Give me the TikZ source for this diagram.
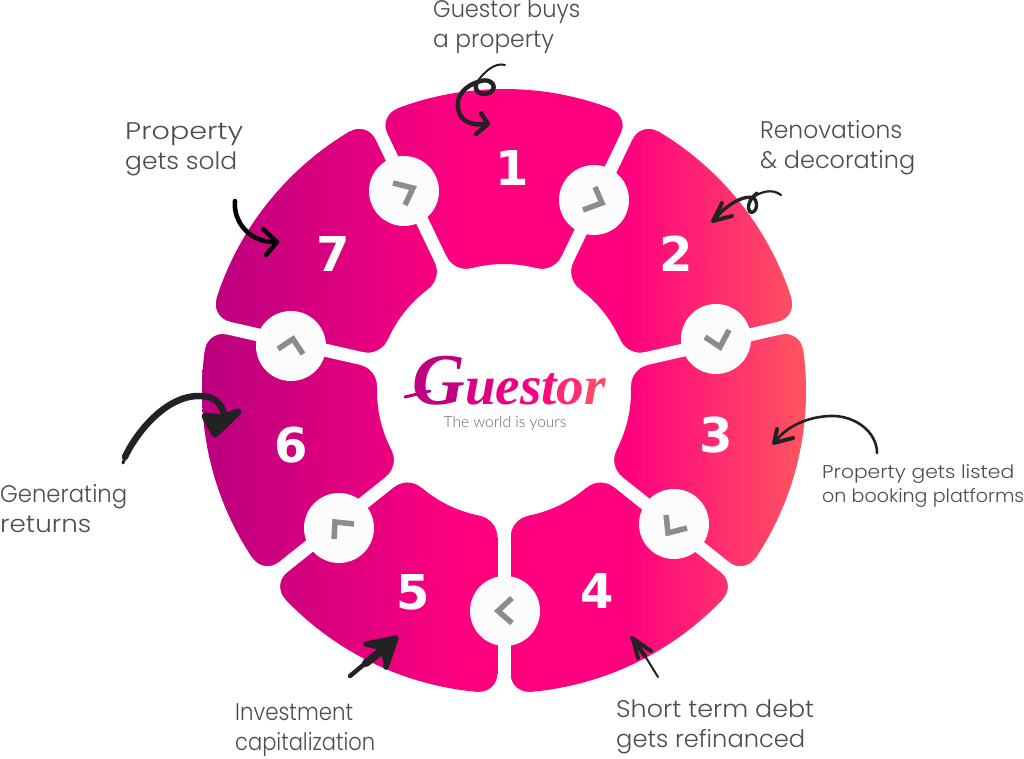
\documentclass[tikz,border=0pt]{standalone}
\usepackage{fontspec}
\usepackage{graphicx}
\setmainfont{Lato}
\newfontfamily\handfont{Poppins Light}
\newfontfamily\digitfont{DejaVu Sans}
\newfontfamily\logofont{Liberation Serif}
\newfontfamily\tagfont{Lato Light}
\definecolor{inkc}{HTML}{222222}
\definecolor{chevc}{HTML}{8C8C8C}
\definecolor{textc}{HTML}{4D4D4D}
\definecolor{ringa}{HTML}{BA007F}
\definecolor{ringb}{HTML}{FF007F}
\definecolor{ringc}{HTML}{FF5560}
\pgfdeclarehorizontalshading{ringshade}{100bp}{color(0bp)=(ringa); color(25bp)=(ringa); color(47bp)=(ringb); color(60bp)=(ringb); color(75bp)=(ringc); color(100bp)=(ringc)}
\newcommand{\fitline}[2]{\resizebox{#1pt}{\height}{#2}}
\tikzset{
  hub/.style={circle,fill=white!99!black,minimum size=70pt,inner sep=0pt},
  chev/.style={draw=chevc,line width=5.5pt,line join=miter},
  digit/.style={text=white,font=\digitfont\bfseries\fontsize{48}{48}\selectfont,inner sep=0pt},
  lab/.style={text=textc,anchor=west,align=left,inner sep=0pt},
  labbig/.style={lab,font=\handfont\fontsize{24}{30}\selectfont},
  labsmall/.style={lab,font=\handfont\fontsize{18.5}{24}\selectfont},
  stroke/.style={draw=inkc,line cap=round,line join=round,line width=#1},
  stroke/.default=3pt
}
\begin{document}
\begin{tikzpicture}[x=1pt,y=-1pt]
\useasboundingbox (0,0) rectangle (1024,759);
\fill[white] (0,0) rectangle (1024,759);
\coordinate (c) at (504,391);
% ring with the horizontal gradient
\begin{scope}[even odd rule]
  \clip (c) circle (302pt) (c) circle (127pt);
  \shade[shading=ringshade] (202,85) rectangle (806,697);
\end{scope}
% white separators with rounded segment corners
\foreach \a in {64.29,12.86,-38.57,-90,-141.43,167.14,115.71}{
  \begin{scope}[shift={(c)},rotate=\a]
    \fill[white] (110,-6.5) rectangle (320,6.5);
    \foreach \s in {1,-1}{
      \begin{scope}[yscale=\s]
        \fill[white] (282.9,6) -- (282.9,6.5) .. controls (293.45,6.5) and (301.71,15.54) .. (300.8,26.05) -- (312,27) -- (312,6) -- cycle;
        \fill[white] (146.25,6) -- (146.25,6.5) .. controls (135.72,6.5) and (126.67,13.96) .. (124.66,24.29) -- (115,24) -- (115,6) -- cycle;
      \end{scope}
    }
  \end{scope}
}
% hubs
\node[hub] (h12) at (594,200) {};
\node[hub] (h23) at (716,339) {};
\node[hub] (h34) at (674,524) {};
\node[hub] (h45) at (505,611) {};
\node[hub] (h56) at (339,528) {};
\node[hub] (h67) at (291,346) {};
\node[hub] (h71) at (404,191) {};
% chevrons
\draw[chev] (393,183) -- (413,188) -- (405,205);
\draw[chev] (595,187) -- (602,203) -- (583,210);
\draw[chev] (705,337) -- (720,347) -- (729,330);
\draw[chev] (666,515) -- (668,533) -- (687,528);
\draw[chev] (512,598) -- (498,611) -- (512,623);
\draw[chev] (334,539) -- (335,522) -- (354,524);
\draw[chev] (278,349) -- (293,339) -- (303,354);
% numbers
\node[digit] (n1) at (512,168) {1};
\node[digit] (n2) at (676,254) {2};
\node[digit] (n3) at (716,435) {3};
\node[digit] (n4) at (597,591) {4};
\node[digit] (n5) at (413,592) {5};
\node[digit] (n6) at (291,445) {6};
\node[digit] (n7) at (333,254) {7};
% labels
\node[labbig] (l1) at (433,27) {\fitline{147}{Guestor buys}\\\fitline{121}{a property}};
\node[labbig] (l2) at (760,148) {\fitline{142}{Renovations}\\\fitline{155}{\& decorating}};
\node[labsmall] (l3) at (822,486) {\fitline{192}{Property gets listed}\\\fitline{202}{on booking platforms}};
\node[labbig] (l4) at (616,727) {\fitline{198}{Short term debt}\\\fitline{189}{gets refinanced}};
\node[labbig] (l5) at (235,730) {\fitline{118}{Investment}\\\fitline{140}{capitalization}};
\node[labbig] (l6) at (0,509) {\fitline{127}{Generating}\\\fitline{91}{returns}};
\node[labbig] (l7) at (125,149) {\fitline{118}{Property}\\\fitline{112}{gets sold}};
% logo
\draw[draw=ringa,line width=3pt,line cap=round] (405,397) -- (430,391);
\node[inner sep=0pt,anchor=base] (logo) at (509,404) {\logofont\bfseries\itshape\fontsize{73}{73}\selectfont
  \textcolor[HTML]{C0007F}{G}\fontsize{55}{55}\selectfont\textcolor[HTML]{DD007F}{u}\textcolor[HTML]{EC007F}{e}\textcolor[HTML]{F8007F}{s}\textcolor[HTML]{FF0A7C}{t}\textcolor[HTML]{FF2A72}{o}\textcolor[HTML]{FF4A66}{r}};
\node[inner sep=0pt,text=black!60,font=\tagfont\fontsize{15.5}{15.5}\selectfont] (tag) at (505,423) {The world is yours};
% hand-drawn arrows
\draw[stroke=2pt] (505,65) .. controls (495,62) and (484,72) .. (477,82);
\draw[stroke=4.4pt] (477,82) .. controls (472,92) and (483,97) .. (491,92) .. controls (498,86) and (490,78) .. (481,81) .. controls (465,85) and (456,96) .. (458,108) .. controls (460,122) and (472,126) .. (487,124);
\draw[stroke=4.4pt] (481,113) -- (488,124) -- (476,134);
\draw[stroke=2.2pt] (781,195) .. controls (772,188) and (760,192) .. (752,198);
\draw[stroke=3.4pt] (757,193) .. controls (750,198) and (746,208) .. (750,212) .. controls (756,214) and (759,204) .. (754,198) .. controls (745,194) and (725,205) .. (713,221);
\draw[stroke=4pt] (722,203) -- (713,221) -- (732,216);
\draw[stroke=2.6pt] (877,453) .. controls (877,432) and (855,415) .. (830,416) .. controls (805,417) and (785,428) .. (775,442);
\draw[stroke=4pt] (777,429) -- (774,443) -- (793,438);
\draw[stroke=2pt] (658,677) -- (645,656);
\draw[stroke=4.4pt] (645,656) -- (633,639);
\draw[stroke=4pt] (632,638) -- (651,651) (633,639) -- (638,658);
\draw[stroke=4.5pt] (350,676) -- (368,661);
\draw[stroke=8pt] (366,663) -- (390,644);
\draw[stroke=5.5pt,fill=inkc] (366,644) -- (396,638) -- (386,667) -- (384,648) -- cycle;
\draw[stroke=3pt] (123,463) -- (128,450);
\draw[stroke=6.5pt] (125,457) .. controls (135,435) and (165,395) .. (200,396) .. controls (222,396) and (228,415) .. (222,428);
\draw[stroke=7pt,fill=inkc] (205,416) -- (215,434) -- (238,412) -- (222,418) -- cycle;
\draw[stroke=4.6pt,draw=black] (235,201) .. controls (233,222) and (250,243) .. (276,242);
\draw[stroke=4.4pt,draw=black] (263,229) -- (277,242) -- (266,255);
\end{tikzpicture}
\end{document}
